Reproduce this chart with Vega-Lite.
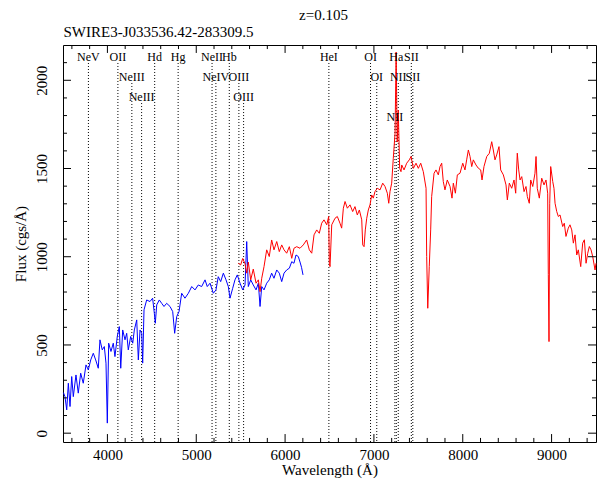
{
  "$schema": "https://vega.github.io/schema/vega-lite/v6.json",
  "width": 533,
  "height": 397,
  "autosize": {"type": "none"},
  "padding": {"left": 63, "top": 45, "right": 6, "bottom": 50},
  "background": "white",
  "config": {
    "view": {"stroke": "black", "strokeWidth": 1},
    "font": "Liberation Serif",
    "axis": {
      "domain": false,
      "grid": false,
      "ticks": false,
      "labelColor": "black",
      "titleColor": "black",
      "labelFont": "Liberation Serif",
      "titleFont": "Liberation Serif",
      "labelFontSize": 15,
      "titleFontSize": 15,
      "titleFontWeight": "normal",
      "labelOverlap": false,
      "labelFlush": false,
      "labelBound": false
    }
  },
  "title": {
    "text": "z=0.105",
    "anchor": "middle",
    "frame": "group",
    "offset": 1,
    "dx": -6,
    "font": "Liberation Serif",
    "fontSize": 15,
    "fontWeight": "normal",
    "color": "black"
  },
  "datasets": {
    "spectrum": [
      {"arm": "blue", "wl": 3505, "flux": 230},
      {"arm": "blue", "wl": 3522, "flux": 207},
      {"arm": "blue", "wl": 3542, "flux": 132},
      {"arm": "blue", "wl": 3560, "flux": 283},
      {"arm": "blue", "wl": 3579, "flux": 151},
      {"arm": "blue", "wl": 3598, "flux": 321},
      {"arm": "blue", "wl": 3616, "flux": 207},
      {"arm": "blue", "wl": 3646, "flux": 330},
      {"arm": "blue", "wl": 3672, "flux": 227},
      {"arm": "blue", "wl": 3699, "flux": 340},
      {"arm": "blue", "wl": 3728, "flux": 283},
      {"arm": "blue", "wl": 3759, "flux": 387},
      {"arm": "blue", "wl": 3785, "flux": 359},
      {"arm": "blue", "wl": 3812, "flux": 415},
      {"arm": "blue", "wl": 3841, "flux": 453},
      {"arm": "blue", "wl": 3868, "flux": 415},
      {"arm": "blue", "wl": 3897, "flux": 368},
      {"arm": "blue", "wl": 3916, "flux": 529},
      {"arm": "blue", "wl": 3942, "flux": 472},
      {"arm": "blue", "wl": 3965, "flux": 491},
      {"arm": "blue", "wl": 3984, "flux": 397},
      {"arm": "blue", "wl": 3999, "flux": 57},
      {"arm": "blue", "wl": 4014, "flux": 510},
      {"arm": "blue", "wl": 4040, "flux": 463},
      {"arm": "blue", "wl": 4066, "flux": 510},
      {"arm": "blue", "wl": 4085, "flux": 434},
      {"arm": "blue", "wl": 4111, "flux": 548},
      {"arm": "blue", "wl": 4134, "flux": 604},
      {"arm": "blue", "wl": 4150, "flux": 368},
      {"arm": "blue", "wl": 4172, "flux": 585},
      {"arm": "blue", "wl": 4198, "flux": 529},
      {"arm": "blue", "wl": 4217, "flux": 566},
      {"arm": "blue", "wl": 4235, "flux": 472},
      {"arm": "blue", "wl": 4262, "flux": 548},
      {"arm": "blue", "wl": 4285, "flux": 510},
      {"arm": "blue", "wl": 4303, "flux": 585},
      {"arm": "blue", "wl": 4330, "flux": 642},
      {"arm": "blue", "wl": 4348, "flux": 415},
      {"arm": "blue", "wl": 4367, "flux": 585},
      {"arm": "blue", "wl": 4386, "flux": 566},
      {"arm": "blue", "wl": 4397, "flux": 397},
      {"arm": "blue", "wl": 4412, "flux": 699},
      {"arm": "blue", "wl": 4442, "flux": 755},
      {"arm": "blue", "wl": 4479, "flux": 746},
      {"arm": "blue", "wl": 4509, "flux": 765},
      {"arm": "blue", "wl": 4528, "flux": 680},
      {"arm": "blue", "wl": 4539, "flux": 623},
      {"arm": "blue", "wl": 4555, "flux": 727},
      {"arm": "blue", "wl": 4584, "flux": 755},
      {"arm": "blue", "wl": 4611, "flux": 736},
      {"arm": "blue", "wl": 4637, "flux": 718},
      {"arm": "blue", "wl": 4667, "flux": 736},
      {"arm": "blue", "wl": 4705, "flux": 718},
      {"arm": "blue", "wl": 4735, "flux": 689},
      {"arm": "blue", "wl": 4757, "flux": 566},
      {"arm": "blue", "wl": 4780, "flux": 661},
      {"arm": "blue", "wl": 4806, "flux": 689},
      {"arm": "blue", "wl": 4836, "flux": 793},
      {"arm": "blue", "wl": 4873, "flux": 765},
      {"arm": "blue", "wl": 4911, "flux": 793},
      {"arm": "blue", "wl": 4949, "flux": 831},
      {"arm": "blue", "wl": 4986, "flux": 812},
      {"arm": "blue", "wl": 5023, "flux": 840},
      {"arm": "blue", "wl": 5061, "flux": 831},
      {"arm": "blue", "wl": 5099, "flux": 869},
      {"arm": "blue", "wl": 5124, "flux": 831},
      {"arm": "blue", "wl": 5155, "flux": 850},
      {"arm": "blue", "wl": 5192, "flux": 793},
      {"arm": "blue", "wl": 5222, "flux": 812},
      {"arm": "blue", "wl": 5248, "flux": 887},
      {"arm": "blue", "wl": 5275, "flux": 859},
      {"arm": "blue", "wl": 5305, "flux": 907},
      {"arm": "blue", "wl": 5335, "flux": 869},
      {"arm": "blue", "wl": 5361, "flux": 831},
      {"arm": "blue", "wl": 5380, "flux": 765},
      {"arm": "blue", "wl": 5410, "flux": 821},
      {"arm": "blue", "wl": 5436, "flux": 869},
      {"arm": "blue", "wl": 5462, "flux": 897},
      {"arm": "blue", "wl": 5493, "flux": 850},
      {"arm": "blue", "wl": 5523, "flux": 812},
      {"arm": "blue", "wl": 5549, "flux": 840},
      {"arm": "blue", "wl": 5568, "flux": 1086},
      {"arm": "blue", "wl": 5586, "flux": 831},
      {"arm": "blue", "wl": 5613, "flux": 869},
      {"arm": "blue", "wl": 5642, "flux": 840},
      {"arm": "blue", "wl": 5673, "flux": 812},
      {"arm": "blue", "wl": 5699, "flux": 850},
      {"arm": "blue", "wl": 5718, "flux": 718},
      {"arm": "blue", "wl": 5737, "flux": 831},
      {"arm": "blue", "wl": 5763, "flux": 812},
      {"arm": "blue", "wl": 5793, "flux": 850},
      {"arm": "blue", "wl": 5822, "flux": 869},
      {"arm": "blue", "wl": 5849, "flux": 907},
      {"arm": "blue", "wl": 5875, "flux": 878},
      {"arm": "blue", "wl": 5906, "flux": 925},
      {"arm": "blue", "wl": 5935, "flux": 907},
      {"arm": "blue", "wl": 5962, "flux": 859},
      {"arm": "blue", "wl": 5988, "flux": 907},
      {"arm": "blue", "wl": 6018, "flux": 925},
      {"arm": "blue", "wl": 6048, "flux": 935},
      {"arm": "blue", "wl": 6075, "flux": 972},
      {"arm": "blue", "wl": 6100, "flux": 963},
      {"arm": "blue", "wl": 6123, "flux": 1010},
      {"arm": "blue", "wl": 6149, "flux": 1001},
      {"arm": "blue", "wl": 6168, "flux": 970},
      {"arm": "blue", "wl": 6185, "flux": 940},
      {"arm": "blue", "wl": 6202, "flux": 897},
      {"arm": "red", "wl": 5473, "flux": 963},
      {"arm": "red", "wl": 5500, "flux": 954},
      {"arm": "red", "wl": 5523, "flux": 990},
      {"arm": "red", "wl": 5549, "flux": 960},
      {"arm": "red", "wl": 5568, "flux": 907},
      {"arm": "red", "wl": 5586, "flux": 970},
      {"arm": "red", "wl": 5613, "flux": 869},
      {"arm": "red", "wl": 5642, "flux": 930},
      {"arm": "red", "wl": 5673, "flux": 850},
      {"arm": "red", "wl": 5699, "flux": 869},
      {"arm": "red", "wl": 5718, "flux": 802},
      {"arm": "red", "wl": 5737, "flux": 878},
      {"arm": "red", "wl": 5763, "flux": 944},
      {"arm": "red", "wl": 5793, "flux": 1039},
      {"arm": "red", "wl": 5822, "flux": 1001},
      {"arm": "red", "wl": 5849, "flux": 1095},
      {"arm": "red", "wl": 5875, "flux": 1039},
      {"arm": "red", "wl": 5906, "flux": 1086},
      {"arm": "red", "wl": 5935, "flux": 1029},
      {"arm": "red", "wl": 5962, "flux": 1067},
      {"arm": "red", "wl": 5988, "flux": 1039},
      {"arm": "red", "wl": 6018, "flux": 1020},
      {"arm": "red", "wl": 6048, "flux": 1057},
      {"arm": "red", "wl": 6075, "flux": 991},
      {"arm": "red", "wl": 6100, "flux": 1048},
      {"arm": "red", "wl": 6131, "flux": 1057},
      {"arm": "red", "wl": 6168, "flux": 1048},
      {"arm": "red", "wl": 6205, "flux": 1067},
      {"arm": "red", "wl": 6243, "flux": 1095},
      {"arm": "red", "wl": 6273, "flux": 1039},
      {"arm": "red", "wl": 6300, "flux": 1020},
      {"arm": "red", "wl": 6326, "flux": 1124},
      {"arm": "red", "wl": 6356, "flux": 1152},
      {"arm": "red", "wl": 6385, "flux": 1133},
      {"arm": "red", "wl": 6412, "flux": 1190},
      {"arm": "red", "wl": 6438, "flux": 1209},
      {"arm": "red", "wl": 6469, "flux": 1181},
      {"arm": "red", "wl": 6491, "flux": 1228},
      {"arm": "red", "wl": 6498, "flux": 963},
      {"arm": "red", "wl": 6506, "flux": 944},
      {"arm": "red", "wl": 6525, "flux": 1181},
      {"arm": "red", "wl": 6562, "flux": 1218},
      {"arm": "red", "wl": 6588, "flux": 1228},
      {"arm": "red", "wl": 6618, "flux": 1190},
      {"arm": "red", "wl": 6637, "flux": 1162},
      {"arm": "red", "wl": 6656, "flux": 1275},
      {"arm": "red", "wl": 6675, "flux": 1313},
      {"arm": "red", "wl": 6701, "flux": 1275},
      {"arm": "red", "wl": 6731, "flux": 1294},
      {"arm": "red", "wl": 6761, "flux": 1256},
      {"arm": "red", "wl": 6787, "flux": 1284},
      {"arm": "red", "wl": 6813, "flux": 1237},
      {"arm": "red", "wl": 6836, "flux": 1265},
      {"arm": "red", "wl": 6863, "flux": 1209},
      {"arm": "red", "wl": 6874, "flux": 1067},
      {"arm": "red", "wl": 6889, "flux": 1057},
      {"arm": "red", "wl": 6903, "flux": 1152},
      {"arm": "red", "wl": 6919, "flux": 1218},
      {"arm": "red", "wl": 6937, "flux": 1265},
      {"arm": "red", "wl": 6956, "flux": 1294},
      {"arm": "red", "wl": 6975, "flux": 1350},
      {"arm": "red", "wl": 6993, "flux": 1332},
      {"arm": "red", "wl": 7012, "flux": 1369},
      {"arm": "red", "wl": 7038, "flux": 1388},
      {"arm": "red", "wl": 7069, "flux": 1379},
      {"arm": "red", "wl": 7099, "flux": 1417},
      {"arm": "red", "wl": 7125, "flux": 1398},
      {"arm": "red", "wl": 7151, "flux": 1360},
      {"arm": "red", "wl": 7167, "flux": 1303},
      {"arm": "red", "wl": 7181, "flux": 1369},
      {"arm": "red", "wl": 7200, "flux": 1417},
      {"arm": "red", "wl": 7218, "flux": 1558},
      {"arm": "red", "wl": 7238, "flux": 1700},
      {"arm": "red", "wl": 7250, "flux": 2160},
      {"arm": "red", "wl": 7262, "flux": 1650},
      {"arm": "red", "wl": 7274, "flux": 1830},
      {"arm": "red", "wl": 7290, "flux": 1501},
      {"arm": "red", "wl": 7305, "flux": 1482},
      {"arm": "red", "wl": 7313, "flux": 1520},
      {"arm": "red", "wl": 7339, "flux": 1492},
      {"arm": "red", "wl": 7369, "flux": 1530},
      {"arm": "red", "wl": 7398, "flux": 1549},
      {"arm": "red", "wl": 7418, "flux": 1568},
      {"arm": "red", "wl": 7444, "flux": 1501},
      {"arm": "red", "wl": 7474, "flux": 1530},
      {"arm": "red", "wl": 7500, "flux": 1501},
      {"arm": "red", "wl": 7527, "flux": 1530},
      {"arm": "red", "wl": 7556, "flux": 1482},
      {"arm": "red", "wl": 7587, "flux": 1388},
      {"arm": "red", "wl": 7594, "flux": 1001},
      {"arm": "red", "wl": 7606, "flux": 708},
      {"arm": "red", "wl": 7623, "flux": 944},
      {"arm": "red", "wl": 7639, "flux": 1152},
      {"arm": "red", "wl": 7650, "flux": 1341},
      {"arm": "red", "wl": 7677, "flux": 1473},
      {"arm": "red", "wl": 7699, "flux": 1492},
      {"arm": "red", "wl": 7725, "flux": 1464},
      {"arm": "red", "wl": 7744, "flux": 1511},
      {"arm": "red", "wl": 7763, "flux": 1530},
      {"arm": "red", "wl": 7781, "flux": 1426},
      {"arm": "red", "wl": 7800, "flux": 1379},
      {"arm": "red", "wl": 7826, "flux": 1435},
      {"arm": "red", "wl": 7857, "flux": 1398},
      {"arm": "red", "wl": 7879, "flux": 1332},
      {"arm": "red", "wl": 7894, "flux": 1417},
      {"arm": "red", "wl": 7917, "flux": 1360},
      {"arm": "red", "wl": 7939, "flux": 1464},
      {"arm": "red", "wl": 7969, "flux": 1473},
      {"arm": "red", "wl": 8000, "flux": 1530},
      {"arm": "red", "wl": 8025, "flux": 1492},
      {"arm": "red", "wl": 8044, "flux": 1549},
      {"arm": "red", "wl": 8063, "flux": 1605},
      {"arm": "red", "wl": 8082, "flux": 1568},
      {"arm": "red", "wl": 8101, "flux": 1511},
      {"arm": "red", "wl": 8119, "flux": 1549},
      {"arm": "red", "wl": 8149, "flux": 1520},
      {"arm": "red", "wl": 8175, "flux": 1502},
      {"arm": "red", "wl": 8202, "flux": 1492},
      {"arm": "red", "wl": 8217, "flux": 1435},
      {"arm": "red", "wl": 8239, "flux": 1511},
      {"arm": "red", "wl": 8270, "flux": 1568},
      {"arm": "red", "wl": 8299, "flux": 1586},
      {"arm": "red", "wl": 8326, "flux": 1652},
      {"arm": "red", "wl": 8344, "flux": 1605},
      {"arm": "red", "wl": 8363, "flux": 1549},
      {"arm": "red", "wl": 8382, "flux": 1577},
      {"arm": "red", "wl": 8408, "flux": 1624},
      {"arm": "red", "wl": 8427, "flux": 1492},
      {"arm": "red", "wl": 8457, "flux": 1464},
      {"arm": "red", "wl": 8487, "flux": 1407},
      {"arm": "red", "wl": 8502, "flux": 1322},
      {"arm": "red", "wl": 8524, "flux": 1417},
      {"arm": "red", "wl": 8551, "flux": 1388},
      {"arm": "red", "wl": 8577, "flux": 1435},
      {"arm": "red", "wl": 8596, "flux": 1360},
      {"arm": "red", "wl": 8614, "flux": 1587},
      {"arm": "red", "wl": 8630, "flux": 1492},
      {"arm": "red", "wl": 8645, "flux": 1435},
      {"arm": "red", "wl": 8664, "flux": 1454},
      {"arm": "red", "wl": 8690, "flux": 1369},
      {"arm": "red", "wl": 8712, "flux": 1398},
      {"arm": "red", "wl": 8727, "flux": 1341},
      {"arm": "red", "wl": 8749, "flux": 1303},
      {"arm": "red", "wl": 8765, "flux": 1435},
      {"arm": "red", "wl": 8788, "flux": 1398},
      {"arm": "red", "wl": 8813, "flux": 1473},
      {"arm": "red", "wl": 8825, "flux": 1568},
      {"arm": "red", "wl": 8839, "flux": 1388},
      {"arm": "red", "wl": 8862, "flux": 1332},
      {"arm": "red", "wl": 8889, "flux": 1445},
      {"arm": "red", "wl": 8915, "flux": 1407},
      {"arm": "red", "wl": 8937, "flux": 1435},
      {"arm": "red", "wl": 8956, "flux": 1360},
      {"arm": "red", "wl": 8963, "flux": 900},
      {"arm": "red", "wl": 8971, "flux": 519},
      {"arm": "red", "wl": 8979, "flux": 1300},
      {"arm": "red", "wl": 8990, "flux": 1511},
      {"arm": "red", "wl": 9013, "flux": 1426},
      {"arm": "red", "wl": 9027, "flux": 1388},
      {"arm": "red", "wl": 9039, "flux": 1303},
      {"arm": "red", "wl": 9058, "flux": 1256},
      {"arm": "red", "wl": 9076, "flux": 1228},
      {"arm": "red", "wl": 9095, "flux": 1237},
      {"arm": "red", "wl": 9125, "flux": 1171},
      {"arm": "red", "wl": 9143, "flux": 1190},
      {"arm": "red", "wl": 9162, "flux": 1115},
      {"arm": "red", "wl": 9188, "flux": 1162},
      {"arm": "red", "wl": 9207, "flux": 1181},
      {"arm": "red", "wl": 9227, "flux": 1152},
      {"arm": "red", "wl": 9245, "flux": 1077},
      {"arm": "red", "wl": 9264, "flux": 1124},
      {"arm": "red", "wl": 9283, "flux": 1010},
      {"arm": "red", "wl": 9301, "flux": 1039},
      {"arm": "red", "wl": 9328, "flux": 944},
      {"arm": "red", "wl": 9350, "flux": 1077},
      {"arm": "red", "wl": 9369, "flux": 1096},
      {"arm": "red", "wl": 9388, "flux": 963},
      {"arm": "red", "wl": 9407, "flux": 1020},
      {"arm": "red", "wl": 9425, "flux": 1058},
      {"arm": "red", "wl": 9444, "flux": 1039},
      {"arm": "red", "wl": 9463, "flux": 1001},
      {"arm": "red", "wl": 9489, "flux": 925},
      {"arm": "red", "wl": 9500, "flux": 963}
    ],
    "lines": [
      {"name": "NeV", "obs": 3786, "tier": 1},
      {"name": "OII", "obs": 4118, "tier": 1},
      {"name": "NeIII", "obs": 4275, "tier": 2},
      {"name": "NeIII", "obs": 4385, "tier": 3},
      {"name": "Hd", "obs": 4532, "tier": 1},
      {"name": "Hg", "obs": 4796, "tier": 1},
      {"name": "NeII", "obs": 5178, "tier": 1},
      {"name": "NeIV", "obs": 5221, "tier": 2},
      {"name": "Hb", "obs": 5372, "tier": 1},
      {"name": "OIII", "obs": 5480, "tier": 2},
      {"name": "OIII", "obs": 5533, "tier": 3},
      {"name": "HeI", "obs": 6493, "tier": 1},
      {"name": "OI", "obs": 6962, "tier": 1},
      {"name": "OI", "obs": 7032, "tier": 2},
      {"name": "NII", "obs": 7236, "tier": 4},
      {"name": "Ha", "obs": 7252, "tier": 1},
      {"name": "NII", "obs": 7274, "tier": 2},
      {"name": "SII", "obs": 7421, "tier": 1},
      {"name": "SII", "obs": 7438, "tier": 2}
    ],
    "wavelengthTicks": [
      {"value": 3600}, {"value": 3800}, {"value": 4000}, {"value": 4200}, {"value": 4400},
      {"value": 4600}, {"value": 4800}, {"value": 5000}, {"value": 5200}, {"value": 5400},
      {"value": 5600}, {"value": 5800}, {"value": 6000}, {"value": 6200}, {"value": 6400},
      {"value": 6600}, {"value": 6800}, {"value": 7000}, {"value": 7200}, {"value": 7400},
      {"value": 7600}, {"value": 7800}, {"value": 8000}, {"value": 8200}, {"value": 8400},
      {"value": 8600}, {"value": 8800}, {"value": 9000}, {"value": 9200}, {"value": 9400}
    ],
    "fluxTicks": [
      {"value": 0}, {"value": 100}, {"value": 200}, {"value": 300}, {"value": 400},
      {"value": 500}, {"value": 600}, {"value": 700}, {"value": 800}, {"value": 900},
      {"value": 1000}, {"value": 1100}, {"value": 1200}, {"value": 1300}, {"value": 1400},
      {"value": 1500}, {"value": 1600}, {"value": 1700}, {"value": 1800}, {"value": 1900},
      {"value": 2000}, {"value": 2100}
    ]
  },
  "resolve": {"axis": {"x": "independent", "y": "independent"}},
  "layer": [
    {
      "description": "Dotted emission-line markers; carries the object name above the frame.",
      "data": {"name": "lines"},
      "transform": [
        {"calculate": "2132 - (datum.tier - 1) * 113.5 - 34", "as": "top"}
      ],
      "mark": {"type": "rule", "color": "black", "strokeWidth": 1, "strokeDash": [1, 2]},
      "encoding": {
        "x": {
          "field": "obs",
          "type": "quantitative",
          "scale": {"domain": [3500, 9500], "nice": false, "zero": false},
          "axis": {
            "orient": "top",
            "labels": false,
            "title": "SWIRE3-J033536.42-283309.5",
            "titleAnchor": "start",
            "titleAlign": "left",
            "titlePadding": 6
          }
        },
        "y": {
          "field": "top",
          "type": "quantitative",
          "scale": {"domain": [-50, 2200], "nice": false, "zero": false},
          "axis": null
        },
        "y2": {"datum": -50}
      }
    },
    {
      "description": "Blue arm of the spectrum; carries the labelled bottom and left axes.",
      "data": {"name": "spectrum"},
      "transform": [{"filter": "datum.arm === 'blue'"}],
      "mark": {"type": "line", "color": "#0000ff", "strokeWidth": 1},
      "encoding": {
        "x": {
          "field": "wl",
          "type": "quantitative",
          "axis": {
            "orient": "bottom",
            "values": [4000, 5000, 6000, 7000, 8000, 9000],
            "format": "d",
            "labelPadding": 5,
            "title": "Wavelength (Å)",
            "titlePadding": 0
          }
        },
        "y": {
          "field": "flux",
          "type": "quantitative",
          "axis": {
            "orient": "left",
            "values": [0, 500, 1000, 1500, 2000],
            "format": "d",
            "labelAngle": -90,
            "labelAlign": "center",
            "labelBaseline": "bottom",
            "labelPadding": 14,
            "title": "Flux (cgs/Å)",
            "titlePadding": 6
          }
        }
      }
    },
    {
      "description": "Red arm of the spectrum.",
      "data": {"name": "spectrum"},
      "transform": [{"filter": "datum.arm === 'red'"}],
      "mark": {"type": "line", "color": "#ff0000", "strokeWidth": 1},
      "encoding": {
        "x": {"field": "wl", "type": "quantitative", "axis": null},
        "y": {"field": "flux", "type": "quantitative", "axis": null}
      }
    },
    {
      "description": "Emission-line names.",
      "data": {"name": "lines"},
      "transform": [
        {"calculate": "2132 - (datum.tier - 1) * 113.5", "as": "level"}
      ],
      "mark": {"type": "text", "align": "center", "baseline": "middle", "font": "Liberation Serif", "fontSize": 12, "color": "black"},
      "encoding": {
        "x": {"field": "obs", "type": "quantitative", "axis": null},
        "y": {"field": "level", "type": "quantitative", "axis": null},
        "text": {"field": "name"}
      }
    },
    {
      "description": "Inward wavelength ticks on the bottom edge (long every 1000 A).",
      "data": {"name": "wavelengthTicks"},
      "transform": [
        {"calculate": "datum.value % 1000 === 0 ? -50 + 45 : -50 + 23", "as": "tipBottom"}
      ],
      "mark": {"type": "rule", "color": "black", "strokeWidth": 1},
      "encoding": {
        "x": {"field": "value", "type": "quantitative", "axis": null},
        "y": {"field": "tipBottom", "type": "quantitative", "axis": null},
        "y2": {"datum": -50}
      }
    },
    {
      "description": "Inward wavelength ticks on the top edge.",
      "data": {"name": "wavelengthTicks"},
      "transform": [
        {"calculate": "datum.value % 1000 === 0 ? 2200 - 45 : 2200 - 23", "as": "tipTop"}
      ],
      "mark": {"type": "rule", "color": "black", "strokeWidth": 1},
      "encoding": {
        "x": {"field": "value", "type": "quantitative", "axis": null},
        "y": {"field": "tipTop", "type": "quantitative", "axis": null},
        "y2": {"datum": 2200}
      }
    },
    {
      "description": "Inward flux ticks on the left edge (long every 500).",
      "data": {"name": "fluxTicks"},
      "transform": [
        {"calculate": "datum.value % 500 === 0 ? 3500 + 90 : 3500 + 45", "as": "tipLeft"}
      ],
      "mark": {"type": "rule", "color": "black", "strokeWidth": 1},
      "encoding": {
        "y": {"field": "value", "type": "quantitative", "axis": null},
        "x": {"field": "tipLeft", "type": "quantitative", "axis": null},
        "x2": {"datum": 3500}
      }
    },
    {
      "description": "Inward flux ticks on the right edge.",
      "data": {"name": "fluxTicks"},
      "transform": [
        {"calculate": "datum.value % 500 === 0 ? 9500 - 90 : 9500 - 45", "as": "tipRight"}
      ],
      "mark": {"type": "rule", "color": "black", "strokeWidth": 1},
      "encoding": {
        "y": {"field": "value", "type": "quantitative", "axis": null},
        "x": {"field": "tipRight", "type": "quantitative", "axis": null},
        "x2": {"datum": 9500}
      }
    }
  ]
}
